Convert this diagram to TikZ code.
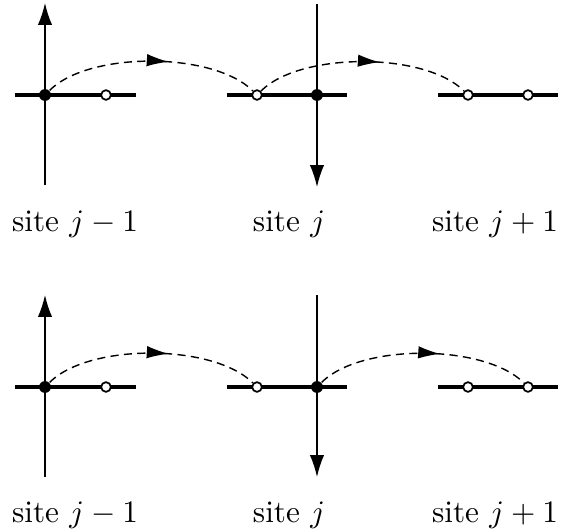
\documentclass[tikz,border=0pt]{standalone}
\usetikzlibrary{arrows.meta,decorations.markings}
\tikzset{
  filled/.style={circle,fill=black,inner sep=0pt,minimum size=3.8pt},
  hollow/.style={circle,draw=black,fill=white,line width=0.55pt,inner sep=0pt,minimum size=3.1pt},
  level/.style={line width=1.3pt},
  axis/.style={line width=0.5pt,-{Latex[length=7pt,width=4.6pt]}},
  hop/.style={line width=0.45pt,dash pattern=on 2.6pt off 1.7pt,
    postaction={decorate},
    decoration={markings,mark=at position 0.58 with {\arrow{Latex[length=7pt,width=4pt]}}}},
  lab/.style={anchor=base,inner sep=0pt}
}
\begin{document}
\begin{tikzpicture}[x=0.32pt,y=-0.32pt]
\useasboundingbox (0,0) rectangle (574,531);
% ---------- top panel ----------
\coordinate (ta1) at (45,185);  \coordinate (ta2) at (45,3);
\coordinate (tb1) at (317,4);   \coordinate (tb2) at (317,187);
\coordinate (th1a) at (15,95);  \coordinate (th1b) at (136,95);
\coordinate (th2a) at (227,95); \coordinate (th2b) at (347,95);
\coordinate (th3a) at (438,95); \coordinate (th3b) at (558,95);
\draw[axis] (ta1) -- (ta2);
\draw[axis] (tb1) -- (tb2);
\draw[level] (th1a) -- (th1b);
\draw[level] (th2a) -- (th2b);
\draw[level] (th3a) -- (th3b);
\node[filled] (tf1) at (45,95) {};
\node[hollow] (to1) at (106,95) {};
\node[hollow] (to2) at (257,95) {};
\node[filled] (tf2) at (317,95) {};
\node[hollow] (to3) at (468,95) {};
\node[hollow] (to4) at (528,95) {};
\draw[hop] (tf1) to[out=45,in=135,looseness=0.7] (to2);
\draw[hop] (to2) to[out=45,in=135,looseness=0.7] (to3);
\node[lab] (tl1) at (75,231) {site $j-1$};
\node[lab] (tl2) at (289,231) {site $j$};
\node[lab] (tl3) at (495,231) {site $j+1$};
% ---------- bottom panel ----------
\coordinate (ba1) at (45,477);  \coordinate (ba2) at (45,295);
\coordinate (bb1) at (317,295); \coordinate (bb2) at (317,477);
\coordinate (bh1a) at (15,387);  \coordinate (bh1b) at (136,387);
\coordinate (bh2a) at (227,387); \coordinate (bh2b) at (347,387);
\coordinate (bh3a) at (438,387); \coordinate (bh3b) at (558,387);
\draw[axis] (ba1) -- (ba2);
\draw[axis] (bb1) -- (bb2);
\draw[level] (bh1a) -- (bh1b);
\draw[level] (bh2a) -- (bh2b);
\draw[level] (bh3a) -- (bh3b);
\node[filled] (bf1) at (45,387) {};
\node[hollow] (bo1) at (106,387) {};
\node[hollow] (bo2) at (257,387) {};
\node[filled] (bf2) at (317,387) {};
\node[hollow] (bo3) at (468,387) {};
\node[hollow] (bo4) at (528,387) {};
\draw[hop] (bf1) to[out=45,in=135,looseness=0.7] (bo2);
\draw[hop] (bf2) to[out=45,in=135,looseness=0.7] (bo4);
\node[lab] (bl1) at (75,522) {site $j-1$};
\node[lab] (bl2) at (289,522) {site $j$};
\node[lab] (bl3) at (495,522) {site $j+1$};
\end{tikzpicture}
\end{document}
